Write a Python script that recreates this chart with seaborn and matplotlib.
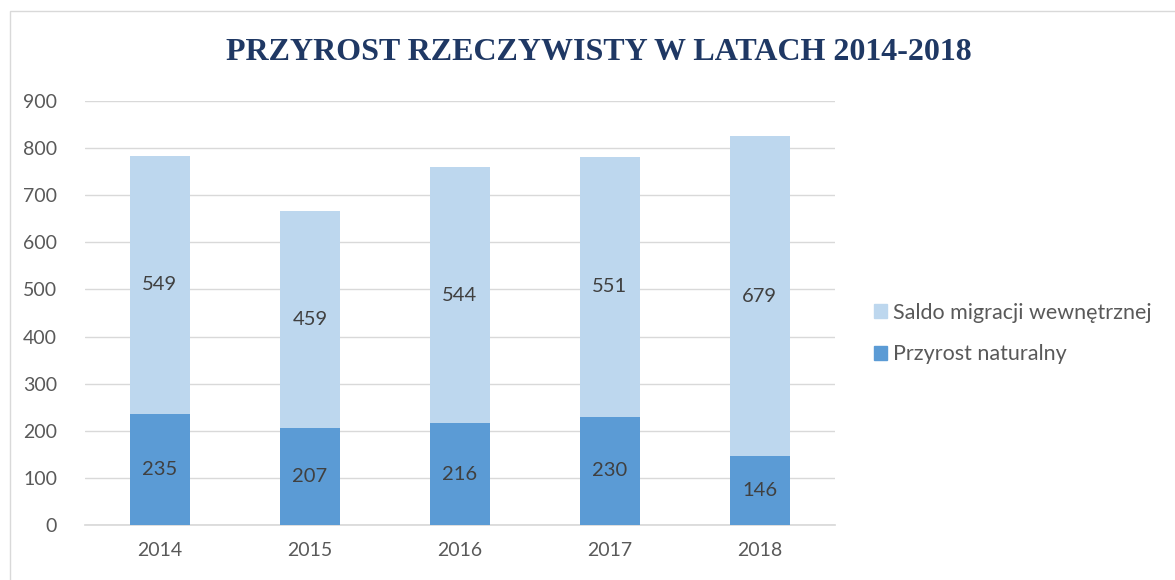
import matplotlib
matplotlib.use("Agg")
import matplotlib.pyplot as plt
import seaborn as sns
import pandas as pd
from matplotlib.patches import Rectangle, Patch

years = ["2014", "2015", "2016", "2017", "2018"]
natural = [235, 207, 216, 230, 146]
migration = [549, 459, 544, 551, 679]
series_names = ["Saldo migracji wewnętrznej", "Przyrost naturalny"]
title = "PRZYROST RZECZYWISTY W LATACH 2014-2018"

light = "#BDD7EE"
dark = "#5B9BD5"
text_grey = "#595959"

sns.set_theme(style="white")
plt.rcParams['font.family'] = ['Lato', 'DejaVu Sans']

totals = [n + m for n, m in zip(natural, migration)]
df = pd.DataFrame({"year": years, "natural": natural, "migration": migration, "total": totals})

fig = plt.figure(figsize=(11.75, 5.8), dpi=100)
ax = fig.add_axes([0.0723, 0.0948, 0.638, 0.731])

sns.barplot(data=df, x="year", y="total", color=light, width=0.4, ax=ax, saturation=1,
            zorder=2, linewidth=0)
sns.barplot(data=df, x="year", y="natural", color=dark, width=0.4, ax=ax, saturation=1,
            zorder=3, linewidth=0)

for i, (n, m) in enumerate(zip(natural, migration)):
    ax.text(i, n / 2, str(n), ha="center", va="center", fontsize=14.5, color="#404040", zorder=4)
    ax.text(i, n + m / 2, str(m), ha="center", va="center", fontsize=14.5, color="#404040", zorder=4)

ax.set_ylim(0, 900)
ax.set_xlim(-0.5, 4.5)
ax.set_yticks(range(0, 901, 100))
ax.yaxis.grid(True, color="#D9D9D9", linewidth=1)
ax.set_axisbelow(True)
for s in ["top", "right", "left"]:
    ax.spines[s].set_visible(False)
ax.spines["bottom"].set_color("#D9D9D9")
ax.tick_params(axis="both", length=0, labelsize=14, labelcolor=text_grey)
ax.tick_params(axis="y", pad=20)
ax.tick_params(axis="x", pad=12)
ax.set_xlabel("")
ax.set_ylabel("")

fig.text(0.51, 0.91, title, ha="center", va="center", fontsize=23, fontweight="bold",
         color="#1F3864", family=["Liberation Serif", "DejaVu Serif"])

handles = [Patch(color=light), Patch(color=dark)]
fig.legend(handles, series_names, loc="center left", bbox_to_anchor=(0.727, 0.425),
           frameon=False, fontsize=15.5, labelcolor=text_grey, handlelength=0.6,
           handleheight=0.6, handletextpad=0.3, labelspacing=1.0)

fig.patches.append(Rectangle((10 / 1175, -0.1), 1.2, (580 - 11) / 580 + 0.1,
                             transform=fig.transFigure, fill=False, edgecolor="#D9D9D9",
                             linewidth=1))

fig.savefig("out.png", dpi=100)
